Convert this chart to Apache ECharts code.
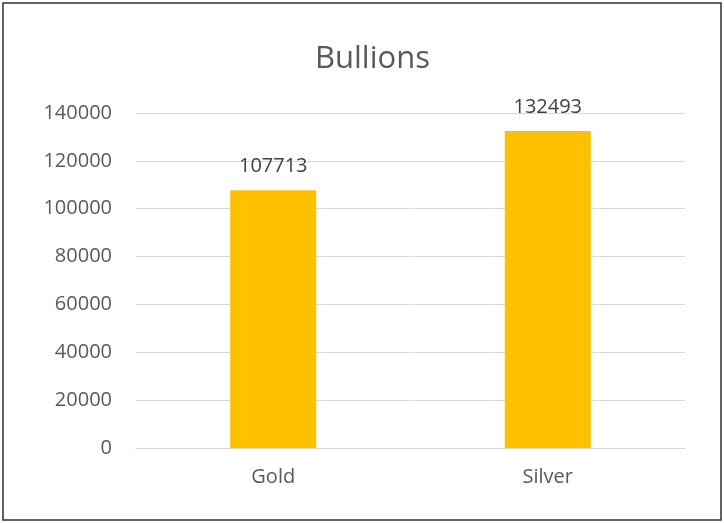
<!DOCTYPE html>
<html>
<head>
<meta charset="utf-8">
<script src="https://cdn.jsdelivr.net/npm/echarts@6/dist/echarts.min.js"></script>
<style>
html,body{margin:0;padding:0;background:#fff;}
#chart{width:724px;height:523px;}
</style>
</head>
<body>
<div id="chart"></div>
<script>
var categories = ["Gold", "Silver"];
var values = [107713, 132493];
var yTicks = [0, 20000, 40000, 60000, 80000, 100000, 120000, 140000];

var chart = echarts.init(document.getElementById('chart'), null, {renderer: 'canvas'});
var font = '"Open Sans", "Noto Sans", sans-serif';
chart.setOption({
  backgroundColor: '#ffffff',
  animation: false,
  graphic: [{
    type: 'rect',
    shape: {x: 3, y: 3, width: 718, height: 517},
    style: {fill: 'none', stroke: '#303030', lineWidth: 1.5},
    silent: true,
    z: -1
  }],
  title: {
    text: 'Bullions',
    left: 310,
    top: 39,
    textStyle: {fontFamily: font, fontSize: 31, fontWeight: 'normal', color: '#595959'}
  },
  grid: {left: 136, right: 39, top: 113, bottom: 75, containLabel: false},
  xAxis: {
    type: 'category',
    data: categories,
    axisLine: {show: true, lineStyle: {color: '#d9d9d9', width: 1}},
    axisTick: {show: false},
    axisLabel: {fontFamily: font, fontSize: 20, color: '#595959', margin: 19}
  },
  yAxis: {
    type: 'value',
    min: yTicks[0],
    max: yTicks[yTicks.length - 1],
    interval: yTicks[1] - yTicks[0],
    axisLine: {show: false},
    axisTick: {show: false},
    splitLine: {lineStyle: {color: '#d9d9d9', width: 1}},
    axisLabel: {fontFamily: font, fontSize: 20, color: '#595959', margin: 24,
      formatter: function (v) { return String(v); }}
  },
  series: [{
    type: 'bar',
    data: values,
    barWidth: 86,
    itemStyle: {color: '#ffc000'},
    label: {
      show: true,
      position: 'top',
      distance: 14,
      fontFamily: font,
      fontSize: 20,
      color: '#404040'
    }
  }]
});
</script>
</body>
</html>
